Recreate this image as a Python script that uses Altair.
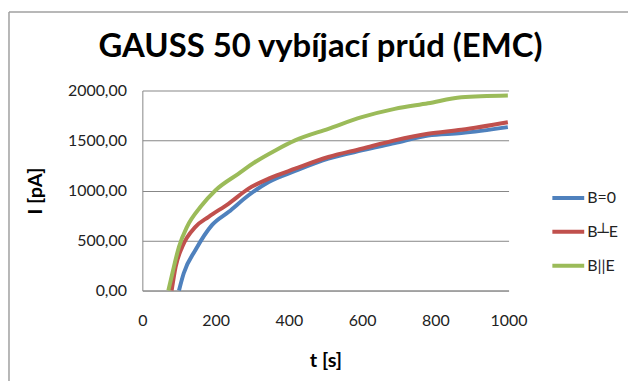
import altair as alt
import pandas as pd

t_b0 = [100, 113, 145, 190, 236, 290, 345, 417, 508, 599, 689, 780, 871, 998]
i_b0 = [0, 173, 405, 654, 787, 953, 1086, 1195, 1318, 1401, 1474, 1550, 1574, 1634]

t_bperp = [80, 91, 109, 145, 181, 236, 290, 345, 417, 508, 599, 689, 780, 871, 998]
i_bperp = [0, 239, 438, 637, 737, 870, 1019, 1119, 1218, 1335, 1418, 1501, 1567, 1607, 1683]

t_bpar = [71, 82, 100, 122, 159, 200, 263, 308, 363, 417, 508, 599, 689, 780, 871, 998]
i_bpar = [0, 173, 438, 637, 837, 1003, 1169, 1285, 1401, 1501, 1617, 1733, 1816, 1872, 1932, 1949]

series = ["B=0", "B\u2534E", "B||E"]
colors = ["#4F81BD", "#C0504D", "#9BBB59"]
x_ticks = [0, 200, 400, 600, 800, 1000]
y_ticks = [0, 500, 1000, 1500, 2000]
title_text = "GAUSS 50 vybíjací prúd (EMC)"

rows = []
for name, ts, vs in zip(series, [t_b0, t_bperp, t_bpar], [i_b0, i_bperp, i_bpar]):
    for t, v in zip(ts, vs):
        rows.append({"t": t, "I": v, "s": name})
df = pd.DataFrame(rows)

FONT = "Lato"

lines = alt.Chart(df).mark_line(strokeWidth=4, interpolate="monotone").encode(
    x=alt.X("t:Q", scale=alt.Scale(domain=[0, 1000], nice=False),
            axis=alt.Axis(values=x_ticks, format="d", title="t [s]", grid=False, ticks=False,
                          tickSize=0, labelPadding=22, titlePadding=22, labelFlush=False)),
    y=alt.Y("I:Q", scale=alt.Scale(domain=[0, 2000], nice=False),
            axis=alt.Axis(values=y_ticks, title="I [pA]", grid=True, ticks=False, tickSize=0,
                          labelPadding=16, titlePadding=22,
                          labelExpr="replace(format(datum.value, '.2f'), '.', ',')")),
    color=alt.Color("s:N", scale=alt.Scale(domain=series, range=colors),
                    legend=alt.Legend(title=None, orient="none", legendX=410, legendY=90,
                                      symbolType="stroke", symbolSize=1024,
                                      symbolStrokeWidth=4, labelOffset=1,
                                      rowPadding=8, labelFontSize=16, labelFont=FONT,
                                      labelColor="#222")),
)

blank = pd.DataFrame({"a": [0]})
top_line = alt.Chart(blank).mark_rule(color="#a0a0a0", strokeWidth=1.5).encode(
    x=alt.value(-134), x2=alt.value(493), y=alt.value(-79))
left_line = alt.Chart(blank).mark_rule(color="#a0a0a0", strokeWidth=1.5).encode(
    x=alt.value(-134), y=alt.value(-79), y2=alt.value(300))
title_mark = alt.Chart(blank).mark_text(
    font=FONT, fontSize=33, fontWeight="bold", color="#000",
    align="center", baseline="alphabetic").encode(
    x=alt.value(179), y=alt.value(-34), text=alt.value(title_text))

chart = alt.layer(lines, top_line, left_line, title_mark).properties(
    width=368, height=201,
    autosize=alt.AutoSizeParams(type="none"),
    padding={"left": 135, "top": 82, "right": 120, "bottom": 90},
).configure_view(stroke=None).configure_axis(
    labelFont=FONT, labelFontSize=16, labelColor="#222",
    titleFont=FONT, titleFontSize=20, titleFontWeight="bold", titleColor="#000",
    domainColor="#868686", gridColor="#868686", domainWidth=1, gridWidth=1,
)

chart.save("out.html", embed_options={"renderer": "svg", "actions": False})
